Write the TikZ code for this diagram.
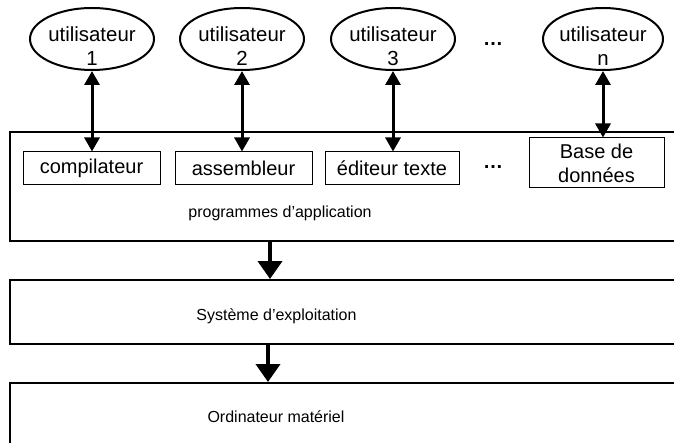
\documentclass[tikz,border=0pt]{standalone}
\usepackage{fontspec}
\setmainfont{Liberation Sans}
\usetikzlibrary{positioning,arrows.meta,shapes.geometric}

\begin{document}
\begin{tikzpicture}[
    x=0.5pt, y=-0.5pt,
    user/.style={draw, ellipse, line width=1pt, minimum width=62pt,
                 minimum height=31pt, inner sep=0pt},
    usertxt/.style={align=center, inner sep=0pt, font=\fontsize{10.2}{12.2}\selectfont},
    prog/.style={draw, line width=0.5pt, minimum height=16.5pt,
                 inner sep=0pt, align=center},
    layer/.style={draw, line width=1pt, minimum width=340pt, inner sep=0pt},
    layertxt/.style={font=\fontsize{8}{10}\selectfont},
    dots/.style={font=\bfseries},
    duo/.style={{Triangle[length=7pt,width=7.5pt]}-{Triangle[length=7pt,width=7.5pt]},
                line width=1.5pt},
    down/.style={-{Triangle[length=9pt,width=12pt]}, line width=2pt}
]
  \useasboundingbox (0,0) rectangle (674,443);
  \clip (0,0) rectangle (674,443);

  % users
  \node[user] (u1) at (92,39) {};
  \node[usertxt] (u1t) at (92,46) {utilisateur\\1};
  \node[user] (u2) at (242,39) {};
  \node[usertxt] (u2t) at (242,46) {utilisateur\\2};
  \node[user] (u3) at (393,39) {};
  \node[usertxt] (u3t) at (393,46) {utilisateur\\3};
  \node[dots] (udots) at (493,44) {…};
  \node[user, minimum width=60pt] (un) at (603,39) {};
  \node[usertxt] (unt) at (603,46) {utilisateur\\n};

  % layers
  \node[layer, minimum height=54.5pt] (app) at (350,186.5) {};
  \node[layertxt] (applbl) at (280,213) {programmes d'application};
  \node[layer, minimum height=32pt] (sys) at (350,312) {};
  \node[layertxt] (syslbl) at (276.5,316) {Système d'exploitation};
  \node[layer, minimum height=45pt] (hw) at (350,428) {};
  \node[layertxt] (hwlbl) at (276,417) {Ordinateur matériel};

  % programs
  \node[prog, minimum width=68.5pt] (comp) at (91.5,168.5) {compilateur};
  \node[prog, minimum width=68.5pt] (asm) at (243.5,168.5) {assembleur};
  \node[prog, minimum width=67pt] (edit) at (392,168.5) {éditeur texte};
  \node[dots] (pdots) at (493,167) {…};
  \node[prog, minimum width=67.5pt, minimum height=25pt] (bdd) at (596.5,163)
    {Base de\\données};

  \draw[duo] (u1.south) -- (u1.south |- comp.north);
  \draw[duo] (u2.south) -- (u2.south |- asm.north);
  \draw[duo] (u3.south) -- (u3.south |- edit.north);
  \draw[duo] (un.south) -- (un.south |- bdd.north);

  \draw[down] (app.south -| applbl) ++(-10,0) coordinate (a1) -- (a1 |- sys.north);
  \draw[down] (sys.south -| syslbl) ++(-8.5,0) coordinate (a2) -- (a2 |- hw.north);
\end{tikzpicture}
\end{document}
